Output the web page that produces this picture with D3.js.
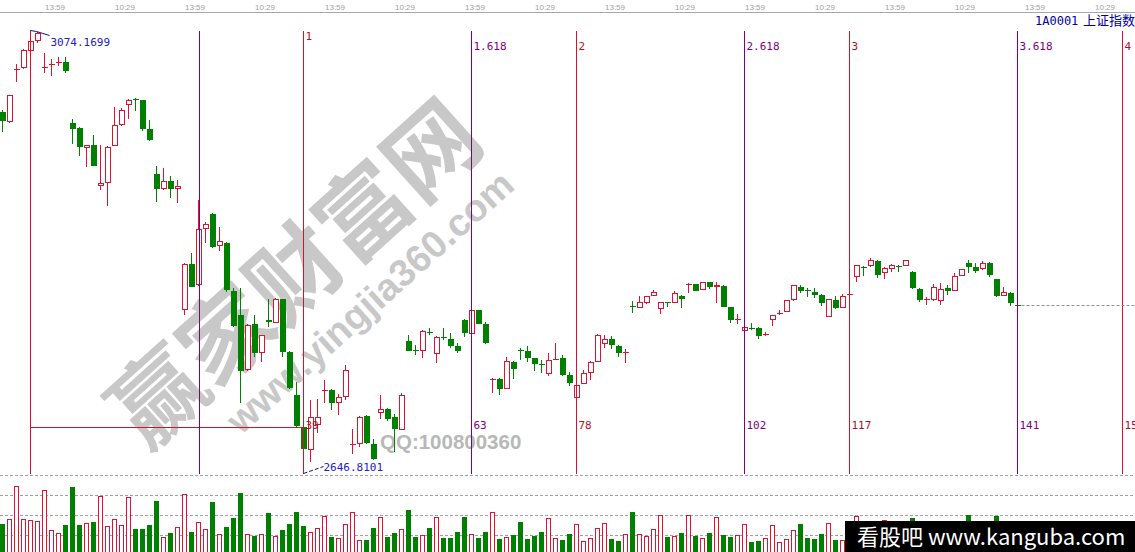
<!DOCTYPE html>
<html><head><meta charset="utf-8">
<script src="https://cdn.jsdelivr.net/npm/d3@7"></script>
<style>html,body{margin:0;padding:0;background:#fff;overflow:hidden}</style>
</head><body><svg id="c" width="1135" height="552"></svg>
<script>
// ---------- DATA ----------
const firstIndex = -4; // bar index of first candle (index 0 = swing high)
const opens = [2995.3,2986.2,3036.3,3038.7,3054.7,3065.0,3038.8,3041.5,3043.7,3044.1,2984.9,2980.1,2961.5,2963.7,2924.8,2927.7,2963.4,2983.3,3003.0,3007.8,3007.1,2979.1,2935.7,2921.5,2929.0,2921.9,2805.2,2848.9,2829.3,2883.0,2897.1,2866.3,2869.5,2822.9,2799.7,2747.3,2791.0,2763.3,2794.9,2792.3,2814.9,2764.0,2722.5,2692.0,2670.2,2693.6,2727.0,2727.4,2715.1,2720.9,2674.8,2675.3,2702.3,2675.3,2705.8,2709.0,2701.0,2689.4,2774.6,2766.4,2765.3,2783.3,2762.1,2778.3,2776.6,2770.1,2794.6,2782.0,2804.5,2791.3,2737.8,2737.7,2729.0,2754.4,2766.3,2765.0,2757.9,2752.9,2743.5,2756.8,2758.5,2741.5,2719.9,2733.8,2744.0,2754.7,2772.4,2776.3,2769.8,2763.8,2808.7,2807.1,2812.0,2819.0,2806.2,2812.4,2812.0,2818.3,2829.1,2829.6,2824.5,2831.3,2826.9,2827.9,2807.1,2795.4,2784.6,2787.2,2786.9,2780.9,2794.9,2800.9,2802.9,2814.2,2826.4,2824.1,2822.2,2819.0,2798.1,2814.2,2806.7,2819.5,2837.3,2846.5,2847.0,2852.1,2840.9,2844.1,2847.2,2847.3,2840.9,2824.5,2814.7,2814.2,2813.5,2825.5,2823.8,2837.6,2849.6,2846.3,2844.1,2849.6,2834.4,2819.0,2821.2,2809.6];
const highs = [2997.0,3012.4,3041.9,3056.3,3074.17,3072.7,3052.8,3046.4,3048.9,3048.3,2988.8,2981.1,2963.7,2973.4,2963.7,2962.3,3000.1,2999.4,3008.1,3008.6,3007.6,2987.8,2943.4,2941.5,2933.8,2930.0,2849.9,2859.8,2910.7,2889.4,2898.1,2884.9,2870.1,2825.8,2825.5,2791.0,2799.7,2780.4,2814.9,2816.1,2815.6,2765.0,2735.4,2692.6,2717.7,2718.4,2737.0,2728.3,2723.5,2751.5,2689.4,2702.3,2703.2,2680.1,2722.5,2710.0,2704.2,2724.5,2780.4,2770.8,2784.8,2786.9,2779.0,2786.9,2782.6,2772.7,2795.4,2804.5,2805.0,2793.2,2739.2,2738.9,2758.9,2755.3,2767.6,2769.8,2758.7,2756.3,2762.8,2773.0,2760.8,2745.0,2732.2,2746.8,2754.9,2781.4,2780.4,2779.5,2770.3,2766.9,2813.5,2818.5,2818.5,2823.8,2812.7,2812.7,2822.9,2819.0,2830.3,2830.1,2832.0,2832.0,2831.3,2828.6,2807.9,2800.2,2788.6,2791.7,2787.7,2783.6,2799.7,2804.5,2814.2,2828.6,2828.6,2825.5,2826.0,2819.5,2814.7,2818.3,2820.0,2820.6,2848.0,2846.9,2854.4,2852.8,2846.3,2848.9,2847.5,2852.8,2841.7,2825.3,2816.8,2829.3,2830.9,2828.6,2839.9,2844.1,2852.8,2849.6,2852.1,2850.4,2834.9,2827.0,2821.9,2809.9];
const lows = [2976.0,2984.9,3024.2,3037.0,3053.4,3061.8,3033.5,3030.3,3040.2,3033.5,2964.7,2953.1,2942.2,2943.4,2920.3,2904.9,2962.7,2982.0,2988.8,2996.5,2977.5,2968.0,2909.0,2920.3,2912.9,2907.5,2799.7,2826.7,2827.7,2869.5,2864.1,2861.7,2822.2,2788.1,2715.1,2745.7,2759.5,2754.7,2787.8,2791.9,2758.9,2728.3,2691.7,2646.81,2658.2,2685.6,2715.1,2708.1,2703.2,2717.7,2665.6,2672.1,2675.7,2659.9,2699.1,2697.5,2667.3,2688.8,2764.9,2761.1,2757.9,2780.4,2753.7,2775.6,2767.6,2763.3,2778.8,2778.8,2791.0,2771.7,2724.2,2722.5,2728.3,2737.7,2756.3,2754.7,2746.0,2743.5,2741.2,2756.3,2741.3,2731.2,2719.2,2733.1,2737.0,2754.4,2768.2,2766.9,2759.5,2753.7,2801.9,2806.5,2810.8,2818.0,2800.7,2807.4,2811.3,2806.2,2821.2,2822.9,2823.4,2825.2,2811.0,2807.4,2791.7,2791.0,2773.9,2785.2,2776.3,2779.7,2789.4,2799.7,2802.6,2813.7,2820.6,2817.4,2816.2,2808.7,2797.5,2805.5,2806.0,2819.0,2831.3,2837.3,2846.5,2835.1,2834.2,2840.9,2841.5,2847.0,2824.8,2812.5,2809.4,2813.7,2809.4,2819.0,2822.9,2837.3,2839.9,2839.9,2843.6,2836.1,2817.4,2818.5,2808.7,2802.9];
const closes = [2987.2,3011.9,3036.7,3054.4,3063.4,3071.5,3039.2,3041.9,3044.1,3035.4,2979.4,2962.1,2963.4,2943.7,2926.8,2961.5,2982.7,2997.2,3006.8,3007.3,2979.1,2968.5,2921.5,2928.7,2921.5,2923.9,2848.6,2827.0,2882.4,2887.5,2865.6,2870.8,2823.8,2789.1,2746.0,2789.8,2762.8,2779.5,2793.4,2814.2,2764.0,2729.0,2692.6,2670.2,2701.0,2701.3,2727.4,2715.1,2720.3,2745.7,2675.3,2701.0,2676.5,2660.5,2709.0,2699.1,2689.4,2722.5,2765.3,2765.9,2784.0,2782.8,2778.2,2777.8,2770.1,2765.0,2782.6,2803.6,2791.3,2772.4,2738.3,2728.0,2754.4,2747.3,2765.9,2757.9,2752.4,2752.4,2756.3,2757.3,2741.8,2734.4,2731.9,2743.1,2754.1,2780.4,2775.6,2770.8,2763.3,2764.3,2808.2,2812.0,2817.4,2821.6,2812.0,2812.0,2820.0,2815.2,2829.6,2823.2,2831.3,2826.4,2828.4,2807.7,2794.9,2795.8,2787.8,2786.7,2779.5,2781.4,2799.0,2801.4,2813.5,2827.7,2823.2,2823.6,2819.0,2811.0,2814.2,2806.2,2818.0,2820.0,2847.3,2846.0,2852.1,2838.6,2844.1,2847.0,2846.7,2852.1,2825.5,2814.2,2815.2,2826.0,2824.5,2823.2,2836.7,2843.8,2846.3,2842.4,2849.6,2838.3,2818.3,2821.2,2811.0,2809.2];
const volumes = [31,35.7,69,35.7,34.7,33.7,64.7,24.7,22,30,68,30,31.7,33,58.7,28.7,35.7,29.7,58,26,26,30,54,17.7,22,27.7,60.7,23,32.7,25.7,53,20.7,28,37,62,20.7,18.7,20.7,42,18.7,25,31,43,29,22.7,26.7,39,18,16.7,30.7,42.7,14.7,14.7,27,37.7,18,22,25.7,45,18,19.7,27,37.7,17,17,23,38,20.7,16.7,23,42.7,15.7,17.7,20,33,16,19,23,36.7,16.7,15,20.7,30.7,14,16.7,26.7,31.7,16,14,20.7,43,20.7,19,25.7,39.7,17.7,19,22,39.7,19,16.7,22,37.7,20,18,20,30.7,13,14,16.7,29.7,12.7,15.7,24.7,31,17,15.7,20.7,31.7,15,14.7,20,39,22,18,25,34.7,16,14,20,37,28,15,22,26,15,24,18,40,20,17,26,39,15,25,18];
const fibRatios = [0, 0.618, 1, 1.618, 2, 2.618, 3, 3.618, 4];
const fibBars   = [0, 24.1, 39, 63, 78, 102, 117, 141, 156];
const fibTopLabels = ["", "", "1", "1.618", "2", "2.618", "3", "3.618", "4"];
const fibCountLabels = ["", "", "39", "63", "78", "102", "117", "141", "156"];
const timeTickBars = [2,12,22,32,42,52,62,72,82,92,102,112,122,132,142,152];
const timeLabels = ["13:59","10:29","13:59","10:29","13:59","10:29","13:59","10:29","13:59","10:29","13:59","10:29","13:59","10:29","13:59","10:29"];
const volGridValues = [20, 40, 60, 80];
const swingHigh = 3074.1699, swingLow = 2646.8101, baseLinePrice = 2691.4;

// ---------- CHART ----------
const W = 1135, H = 552;
const RED = "#dc1432", GREEN = "#008000", PURPLE = "#800080", FIBRED = "#d8102c";
const svg = d3.select("#c");
const x = d3.scaleLinear().domain([0, 156]).range([30.5, 1122.5]);
const y = d3.scaleLinear().domain([swingLow, swingHigh]).range([473.5, 30.5]);
const vy = d3.scaleLinear().domain([0, 80]).range([555, 474.5]);
const cx = i => Math.round(x(i + firstIndex) - 0.5) + 0.5;

// watermark
const wm = svg.append("g").attr("fill", "#c8c8c8").attr("font-family", "Noto Sans CJK SC, sans-serif").attr("font-weight", "bold");
wm.append("text").attr("transform", "translate(290,268) rotate(-42)").attr("text-anchor", "middle").attr("dominant-baseline", "central")
  .attr("font-size", 92).text("赢家财富网");
wm.append("text").attr("transform", "translate(370,302) rotate(-42)").attr("text-anchor", "middle").attr("dominant-baseline", "central")
  .attr("font-family", "Liberation Sans, Arial, sans-serif").attr("font-size", 38).text("www.yingjia360.com");
wm.append("text").attr("x", 380).attr("y", 449).attr("font-family", "Liberation Sans, Arial, sans-serif").attr("font-size", 20.5)
  .attr("fill", "#b8b8b8").text("QQ:100800360");

// top time axis
svg.append("line").attr("x1", 0).attr("x2", W).attr("y1", 12.5).attr("y2", 12.5).attr("stroke", "#a8a8a8");
const ax = d3.axisTop(x).tickValues(timeTickBars).tickSize(0).tickPadding(3).tickFormat((d, i) => timeLabels[i]);
const axg = svg.append("g").attr("transform", "translate(0,12.5)").call(ax);
axg.select(".domain").remove();
axg.selectAll("text").attr("text-anchor", "start").attr("fill", "#a0a0a0").attr("font-size", 8).attr("font-family", "Liberation Sans, Arial, sans-serif");

// title
svg.append("text").attr("x", 1035).attr("y", 25).attr("fill", "#0000a8").attr("font-size", 12)
  .attr("font-family", "DejaVu Sans Mono, monospace").text("1A0001");
svg.append("text").attr("x", 1083).attr("y", 25).attr("fill", "#0000a8").attr("font-size", 13)
  .attr("font-family", "Noto Sans CJK SC, sans-serif").text("上证指数");

// dashed grid lines (volume panel)
svg.append("g").selectAll("line").data(volGridValues).join("line")
  .attr("x1", 0).attr("x2", W).attr("y1", d => Math.round(vy(d)) + 0.5).attr("y2", d => Math.round(vy(d)) + 0.5)
  .attr("stroke", "#a0a0a0").attr("stroke-dasharray", "3,2");

// volume bars
const vg = svg.append("g").attr("shape-rendering", "crispEdges");
volumes.forEach((v, i) => {
  const up = closes[i] >= opens[i];
  const c = cx(i);
  const top = Math.round(vy(v)) + 0.5;
  if (up) vg.append("rect").attr("x", c - 2).attr("y", top).attr("width", 4).attr("height", H + 5 - top)
    .attr("fill", "#fff").attr("stroke", RED);
  else vg.append("rect").attr("x", c - 2.5).attr("y", top - 0.5).attr("width", 5).attr("height", H + 5 - top)
    .attr("fill", GREEN);
});

// candles
const cg = svg.append("g").attr("shape-rendering", "crispEdges");
opens.forEach((o, i) => {
  const c = closes[i], up = c >= o, col = up ? RED : GREEN;
  const px = cx(i);
  cg.append("line").attr("x1", px).attr("x2", px).attr("y1", y(highs[i])).attr("y2", y(lows[i])).attr("stroke", col);
  const yt = y(Math.max(o, c)), yb = y(Math.min(o, c));
  if (yb - yt < 1.5) {
    cg.append("line").attr("x1", px - 3).attr("x2", px + 3).attr("y1", Math.round(yt) + 0.5).attr("y2", Math.round(yt) + 0.5).attr("stroke", col);
  } else if (up) {
    cg.append("rect").attr("x", px - 2.5).attr("y", yt).attr("width", 5).attr("height", yb - yt).attr("fill", "#fff").attr("stroke", col);
  } else {
    cg.append("rect").attr("x", px - 3).attr("y", yt).attr("width", 6).attr("height", yb - yt).attr("fill", col);
  }
});

// fibonacci time zones
const fg = svg.append("g").attr("shape-rendering", "crispEdges");
fg.append("line").attr("x1", x(0)).attr("x2", x(39)).attr("y1", Math.round(y(baseLinePrice)) + 0.5).attr("y2", Math.round(y(baseLinePrice)) + 0.5)
  .attr("stroke", FIBRED);
fibRatios.forEach((r, k) => {
  const isInt = Number.isInteger(r);
  const col = isInt ? FIBRED : PURPLE;
  const lx = Math.round(x(fibBars[k]) - 0.5) + 0.5;
  fg.append("line").attr("x1", lx).attr("x2", lx).attr("y1", y(swingHigh)).attr("y2", y(swingLow)).attr("stroke", col);
  const tcol = isInt ? "#b0102a" : PURPLE;
  if (fibTopLabels[k]) fg.append("text").attr("x", lx + 2).attr("y", r === 1 ? 40 : 50).attr("fill", tcol)
    .attr("font-size", 11).attr("font-family", "DejaVu Sans Mono, monospace").text(fibTopLabels[k]);
  if (fibCountLabels[k]) fg.append("text").attr("x", lx + 2).attr("y", 429).attr("fill", tcol)
    .attr("font-size", 11).attr("font-family", "DejaVu Sans Mono, monospace").text(fibCountLabels[k]);
});

// swing annotations
const ann = svg.append("g").attr("fill", "#2020c8").attr("font-size", 11).attr("font-family", "DejaVu Sans Mono, monospace");
ann.append("path").attr("d", `M${x(0)},${y(swingHigh)} L${x(0) + 6},${y(swingHigh) + 1} L${x(0) + 19},${y(swingHigh) + 5}`)
  .attr("fill", "none").attr("stroke", "#101080");
ann.append("text").attr("x", x(0) + 20).attr("y", y(swingHigh) + 15).text(swingHigh.toFixed(4));
ann.append("path").attr("d", `M${x(39)},${y(swingLow)} L${x(39) + 20},${y(swingLow) - 7}`)
  .attr("fill", "none").attr("stroke", "#101080").attr("stroke-dasharray", "4,2");
ann.append("text").attr("x", x(39) + 20).attr("y", y(swingLow) - 2.5).text(swingLow.toFixed(4));

// last close dashed line
const lastY = Math.round(y(closes[closes.length - 1])) + 0.5;
svg.append("line").attr("x1", cx(closes.length - 1) + 4).attr("x2", W).attr("y1", lastY).attr("y2", lastY)
  .attr("stroke", "#909090").attr("stroke-dasharray", "3,2");

// bottom-right badge
svg.append("rect").attr("x", 845).attr("y", 521).attr("width", 290).attr("height", 31).attr("fill", "#000");
svg.append("text").attr("x", 857).attr("y", 545).attr("fill", "#fff").attr("font-size", 22)
  .attr("font-family", "Noto Sans CJK SC, sans-serif").text("看股吧 www.kanguba.com");
</script></body></html>
